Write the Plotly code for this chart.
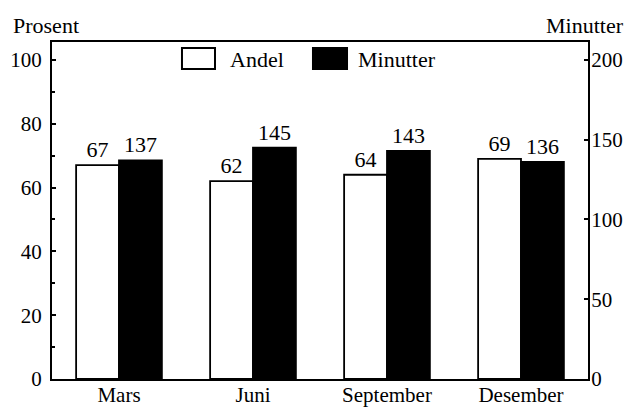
import plotly.graph_objects as go

categories = ["Mars", "Juni", "September", "Desember"]
andel = [67, 62, 64, 69]
minutter = [137, 145, 143, 136]
left_ticks = [0, 20, 40, 60, 80, 100]
right_ticks = [0, 50, 100, 150, 200]
series_names = ["Andel", "Minutter"]

FONT = "Liberation Serif"

fig = go.Figure()
fig.add_trace(go.Bar(
    x=categories, y=andel, name=series_names[0], yaxis="y", offsetgroup="1",
    marker=dict(color="white", line=dict(color="black", width=1.8)),
    text=andel, textposition="outside", cliponaxis=False,
    textfont=dict(family=FONT, size=22, color="black"),
))
fig.add_trace(go.Bar(
    x=categories, y=minutter, name=series_names[1], yaxis="y2", offsetgroup="2",
    marker=dict(color="black", line=dict(color="black", width=1.8)),
    text=minutter, textposition="outside", cliponaxis=False,
    textfont=dict(family=FONT, size=22, color="black"),
))

# legend drawn as large boxes like the original
shapes = [
    dict(type="rect", xref="paper", yref="paper", x0=0.2425, x1=0.3041, y0=0.920, y1=0.982,
         fillcolor="white", line=dict(color="black", width=2)),
    dict(type="rect", xref="paper", yref="paper", x0=0.4869, x1=0.5504, y0=0.920, y1=0.982,
         fillcolor="black", line=dict(color="black", width=2)),
]

fig.update_layout(
    width=629, height=407,
    margin=dict(l=52, r=41, t=42, b=28),
    paper_bgcolor="white", plot_bgcolor="white",
    font=dict(family=FONT, size=21, color="black"),
    barmode="group", bargap=0.36, bargroupgap=0.0,
    showlegend=False,
    shapes=shapes,
    xaxis=dict(showline=True, linecolor="black", linewidth=2, mirror=True, automargin=False,
               ticks="", showgrid=False, tickfont=dict(size=21), ticklabelstandoff=-4),
    yaxis=dict(range=[0, 105.6], tickvals=left_ticks, showline=True, linecolor="black",
               linewidth=2, ticks="inside", ticklen=4, tickwidth=1.5, tickcolor="black",
               showgrid=False, zeroline=False, tickfont=dict(size=21), automargin=False,
               ticklabelstandoff=4,
               minor=dict(dtick=10, ticks="inside", ticklen=3, tickcolor="black")),
    yaxis2=dict(range=[0, 211.2], tickvals=right_ticks, overlaying="y", side="right",
                showline=True, linecolor="black", linewidth=2, ticks="inside", ticklen=4,
                tickwidth=1.5, tickcolor="black", showgrid=False, zeroline=False,
                tickfont=dict(size=21), automargin=False, ticklabelstandoff=-3),
    annotations=[
        dict(text=series_names[0], x=0.3284, xref="paper", xanchor="left",
             y=0.9466, yref="paper", yanchor="middle", showarrow=False,
             font=dict(family=FONT, size=22)),
        dict(text=series_names[1], x=0.5672, xref="paper", xanchor="left",
             y=0.9466, yref="paper", yanchor="middle", showarrow=False,
             font=dict(family=FONT, size=22)),
        dict(text="Prosent", x=0, xref="paper", xanchor="left", xshift=-41,
             y=1, yref="paper", yanchor="middle", yshift=17, showarrow=False,
             font=dict(family=FONT, size=22)),
        dict(text="Minutter", x=1, xref="paper", xanchor="right", xshift=38,
             y=1, yref="paper", yanchor="middle", yshift=17, showarrow=False,
             font=dict(family=FONT, size=22)),
    ],
)

fig.write_html(
    "out.html",
    config={"displayModeBar": False},
    post_script="document.body.style.margin='0';document.body.style.overflow='hidden';",
)
